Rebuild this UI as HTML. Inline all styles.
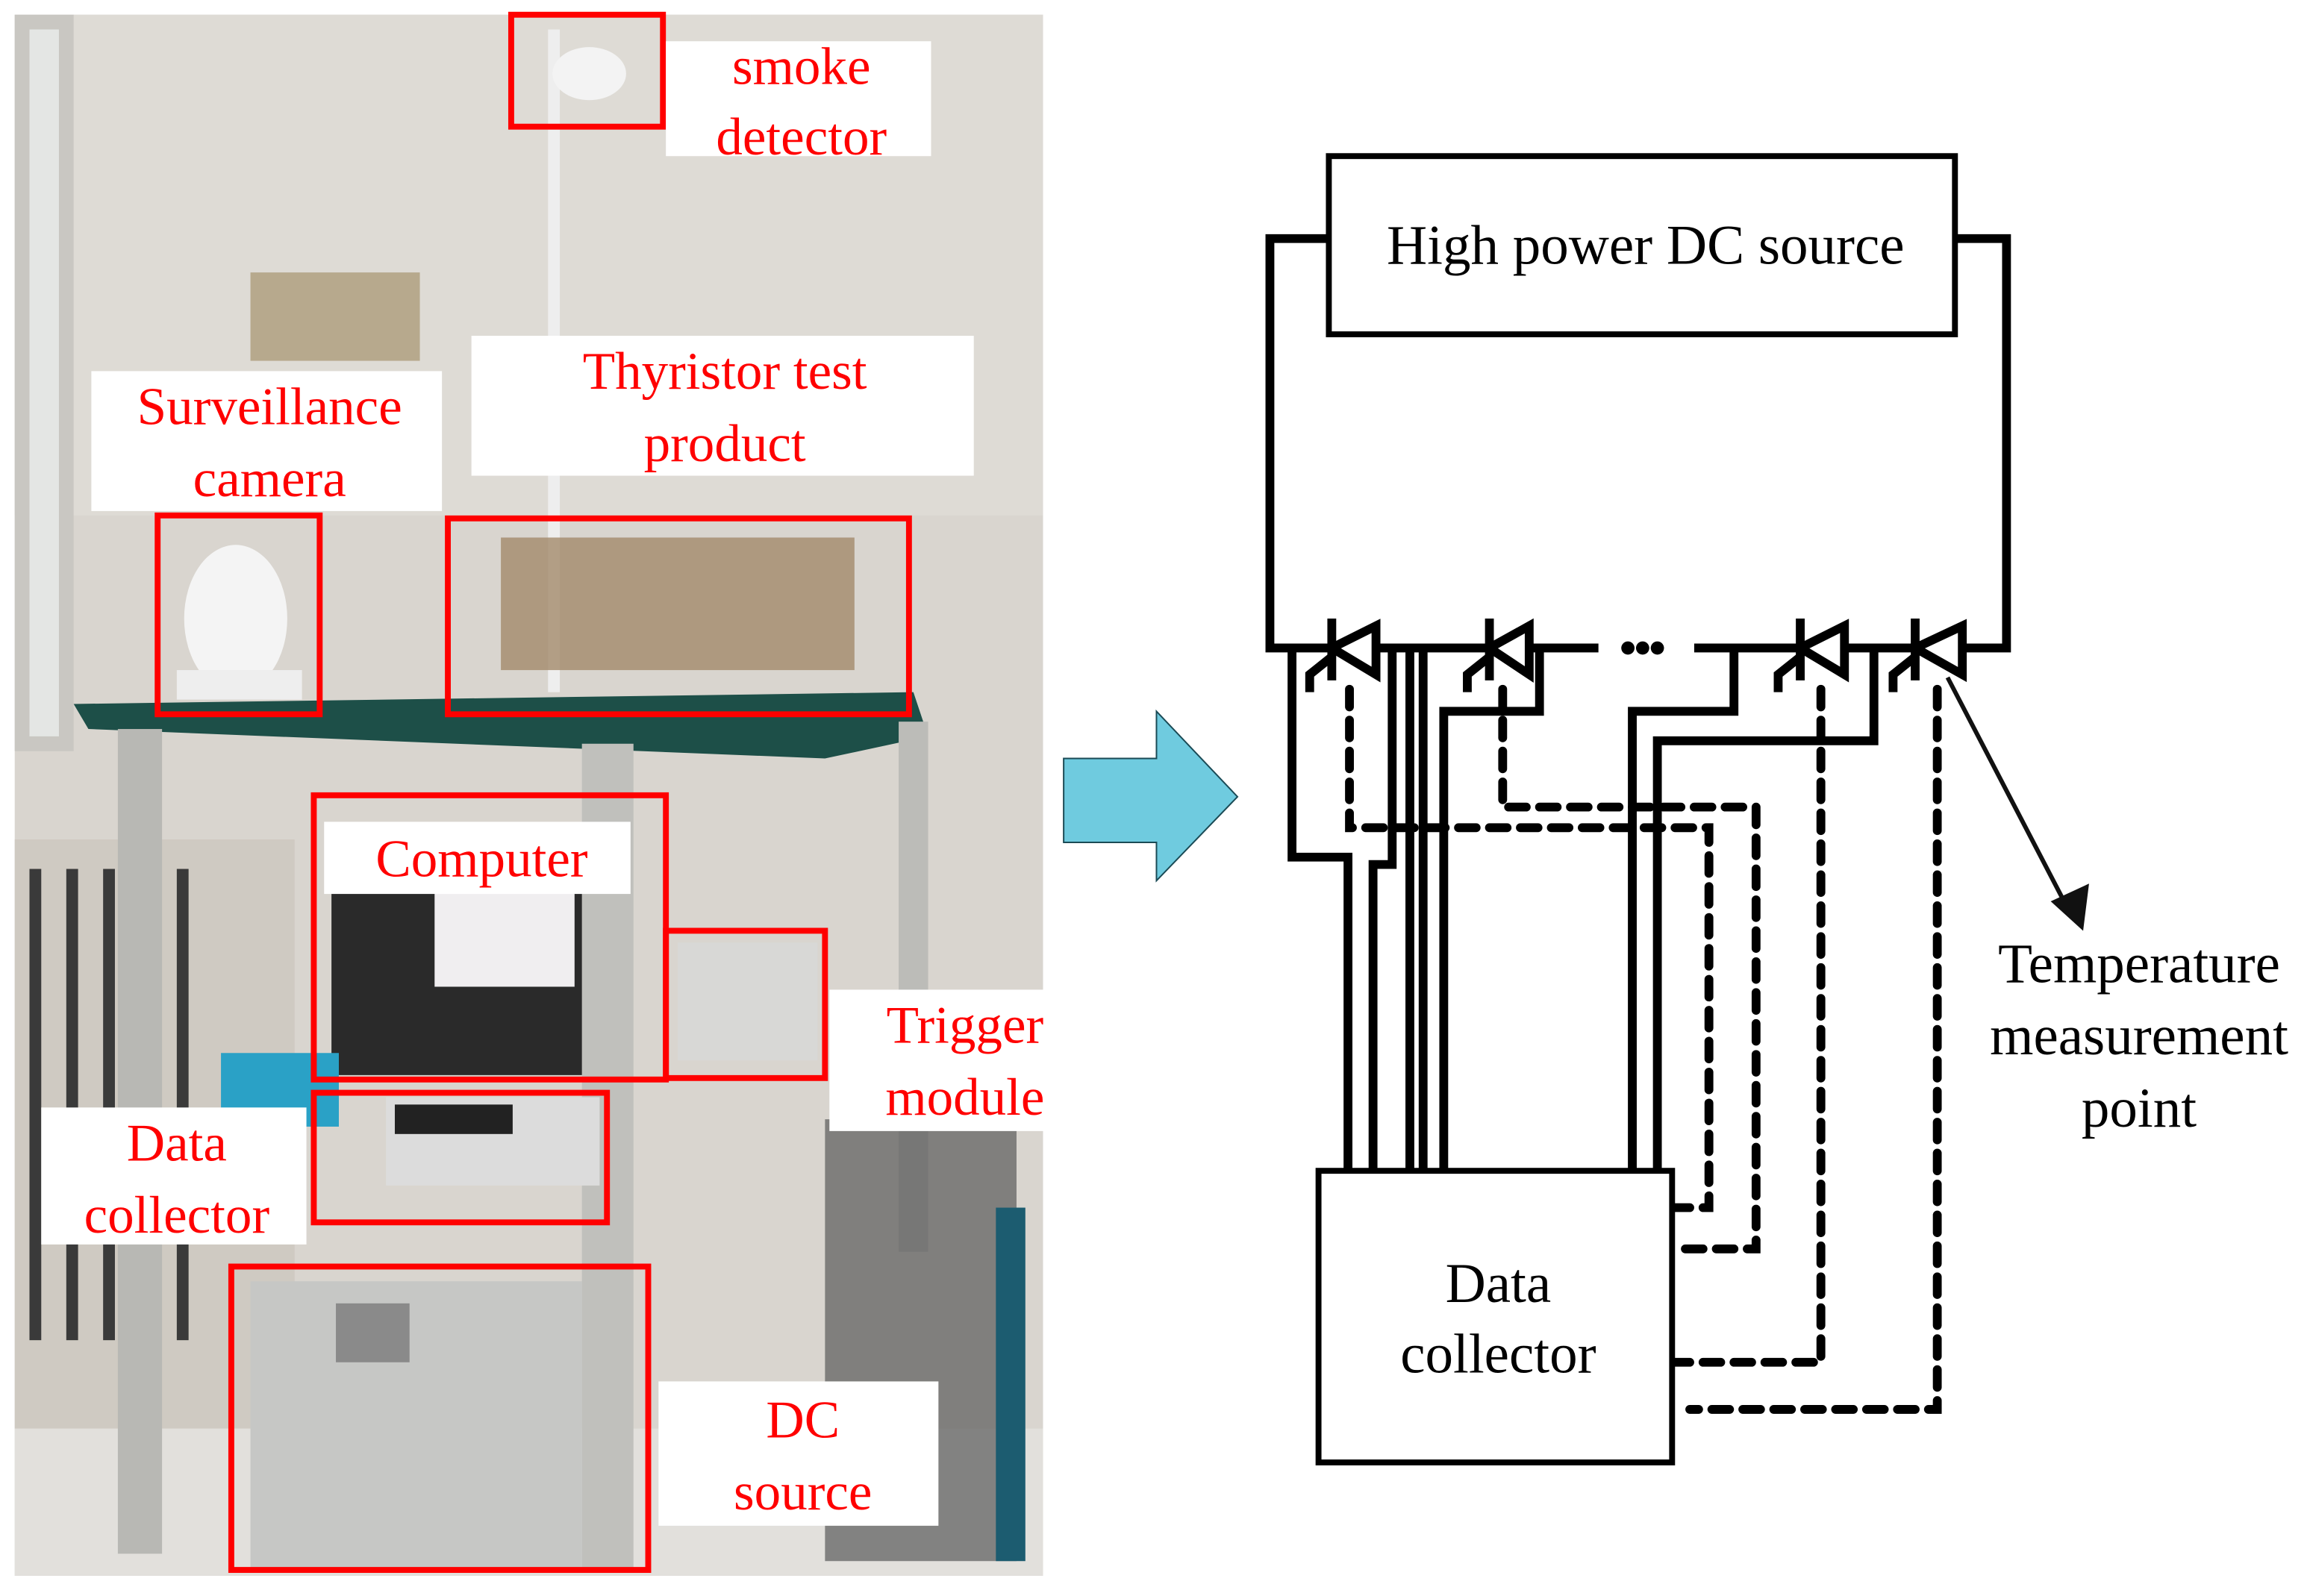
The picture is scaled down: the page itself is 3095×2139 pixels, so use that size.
<!DOCTYPE html>
<html><head><meta charset="utf-8"><style>
html,body{margin:0;padding:0;background:#fff;}
svg{display:block;}
.lt{font-family:"Liberation Serif",serif;fill:#f00;font-size:36px;text-anchor:middle;}
.bt{font-family:"Liberation Serif",serif;fill:#000;font-size:38px;text-anchor:middle;}
</style></head><body>
<svg width="3095" height="2139" viewBox="0 0 1568 1083.7" preserveAspectRatio="none" xmlns="http://www.w3.org/2000/svg">
<rect width="1568" height="1084" fill="#fff"/>
<rect x="10" y="10" width="698" height="1060" fill="#d9d5cf"/>
<rect x="10" y="10" width="698" height="340" fill="#dedbd5"/>
<rect x="10" y="10" width="40" height="500" fill="#c9c7c2"/>
<rect x="20" y="20" width="20" height="480" fill="#e4e6e4"/>
<rect x="170" y="185" width="115" height="60" fill="#b7a98d"/>
<rect x="10" y="570" width="190" height="400" fill="#cfcac2"/>
<g fill="#3a3a3a"><rect x="20" y="590" width="8" height="320"/><rect x="45" y="590" width="8" height="320"/><rect x="70" y="590" width="8" height="320"/><rect x="95" y="590" width="8" height="320"/><rect x="120" y="590" width="8" height="320"/></g>
<rect x="10" y="970" width="698" height="100" fill="#e2e0dc"/>
<polygon points="50,478 620,470 630,500 560,515 60,495" fill="#1d4f48"/>
<rect x="80" y="495" width="30" height="560" fill="#b8b8b4"/>
<rect x="395" y="505" width="35" height="560" fill="#c0c0bc"/>
<rect x="610" y="490" width="20" height="360" fill="#bcbcb8"/>
<rect x="372" y="20" width="8" height="450" fill="#eee"/>
<ellipse cx="400" cy="50" rx="25" ry="18" fill="#f3f3f3"/>
<ellipse cx="160" cy="420" rx="35" ry="50" fill="#f4f4f4"/>
<rect x="120" y="455" width="85" height="20" fill="#eeeeee"/>
<rect x="340" y="365" width="240" height="90" fill="#a3896a" opacity="0.8"/>
<rect x="225" y="600" width="170" height="130" fill="#2a2a2a"/>
<rect x="295" y="605" width="95" height="65" fill="#f0eef0"/>
<rect x="150" y="715" width="80" height="50" fill="#2aa1c6"/>
<rect x="262" y="745" width="145" height="60" fill="#dcdcdc"/>
<rect x="268" y="750" width="80" height="20" fill="#222"/>
<rect x="460" y="640" width="95" height="80" fill="#d8d8d6"/>
<rect x="170" y="870" width="225" height="195" fill="#c6c7c5"/>
<rect x="228" y="885" width="50" height="40" fill="#8a8a8a"/>
<rect x="560" y="760" width="130" height="300" fill="#5a5a5a" opacity="0.7"/>
<rect x="676" y="820" width="20" height="240" fill="#1c5c70"/>
<g fill="none" stroke="#f00" stroke-width="4">
<rect x="347" y="10" width="103" height="76"/>
<rect x="304" y="352" width="313" height="133"/>
<rect x="107" y="350" width="110" height="135"/>
<rect x="213" y="540" width="239" height="193"/>
<rect x="452" y="632" width="108" height="100"/>
<rect x="213" y="742" width="199" height="88"/>
<rect x="157" y="860" width="283" height="206"/>
</g>
<g fill="#fff">
<rect x="452" y="28" width="180" height="78"/>
<rect x="320" y="228" width="341" height="95"/>
<rect x="62" y="252" width="238" height="95"/>
<rect x="220" y="558" width="208" height="49"/>
<rect x="563" y="672" width="149" height="96"/>
<rect x="28" y="752" width="180" height="93"/>
<rect x="447" y="938" width="190" height="98"/>
</g>
<text class="lt" x="544" y="57">smoke</text><text class="lt" x="544" y="105">detector</text>
<text class="lt" x="492" y="264">Thyristor test</text><text class="lt" x="492" y="313">product</text>
<text class="lt" x="183" y="288">Surveillance</text><text class="lt" x="183" y="337">camera</text>
<text class="lt" x="327" y="595">Computer</text>
<text class="lt" x="655" y="708">Trigger</text><text class="lt" x="655" y="757">module</text>
<text class="lt" x="120" y="788">Data</text><text class="lt" x="120" y="837">collector</text>
<text class="lt" x="545" y="976">DC</text><text class="lt" x="545" y="1025">source</text>
<polygon points="722,515 785,515 785,483 840,541 785,598 785,572 722,572" fill="#6fcbdf" stroke="#1a4a55" stroke-width="1"/>
<rect x="902" y="106" width="425" height="121" fill="none" stroke="#000" stroke-width="4"/>
<text class="bt" x="1117" y="179">High power DC source</text>
<g fill="none" stroke="#000" stroke-width="6" stroke-linejoin="miter">
<polyline points="902,162 862,162 862,440 1085,440"/>
<polyline points="1327,162 1362,162 1362,440 1150,440"/>
<polyline points="877,440 877,582 915,582 915,795"/>
<polyline points="945,440 945,587 932,587 932,795"/>
<polyline points="957,440 957,795"/>
<polyline points="966,440 966,795"/>
<polyline points="1045,440 1045,483 980,483 980,795"/>
<polyline points="1177,440 1177,483 1108,483 1108,795"/>
<polyline points="1272,440 1272,503 1125,503 1125,795"/>
</g>
<g fill="#000">
<circle cx="1105" cy="440" r="4.5"/><circle cx="1115" cy="440" r="4.5"/><circle cx="1125" cy="440" r="4.5"/>
</g>
<g fill="#fff" stroke="#000" stroke-width="6">
<polygon points="904,440 934,425 934,458"/>
<polygon points="1011,440 1038,425 1038,458"/>
<polygon points="1222,440 1252,425 1252,458"/>
<polygon points="1300,440 1332,425 1332,458"/>
</g>
<g fill="none" stroke="#000" stroke-width="6">
<line x1="904" y1="420" x2="904" y2="462"/><polyline points="904,446 889,458 889,470"/>
<line x1="1011" y1="420" x2="1011" y2="462"/><polyline points="1011,446 996,458 996,470"/>
<line x1="1222" y1="420" x2="1222" y2="462"/><polyline points="1222,446 1207,458 1207,470"/>
<line x1="1300" y1="420" x2="1300" y2="462"/><polyline points="1300,446 1285,458 1285,470"/>
</g>
<g fill="none" stroke="#000" stroke-width="6" stroke-dasharray="12 9" stroke-linecap="round">
<polyline points="916,468 916,562 1160,562 1160,820 1137,820"/>
<polyline points="1020,468 1020,548 1192,548 1192,848 1137,848"/>
<polyline points="1236,468 1236,925 1137,925"/>
<polyline points="1315,468 1315,957 1147,957"/>
</g>
<rect x="895" y="795" width="240" height="198" fill="#fff" stroke="#000" stroke-width="4"/>
<text class="bt" x="1017" y="884">Data</text><text class="bt" x="1017" y="932">collector</text>
<line x1="1322" y1="460" x2="1400" y2="610" stroke="#111" stroke-width="3"/>
<polygon points="1392,612 1418,600 1414,632" fill="#111"/>
<text class="bt" x="1452" y="667">Temperature</text>
<text class="bt" x="1452" y="716">measurement</text>
<text class="bt" x="1452" y="765">point</text>
</svg>
</body></html>
